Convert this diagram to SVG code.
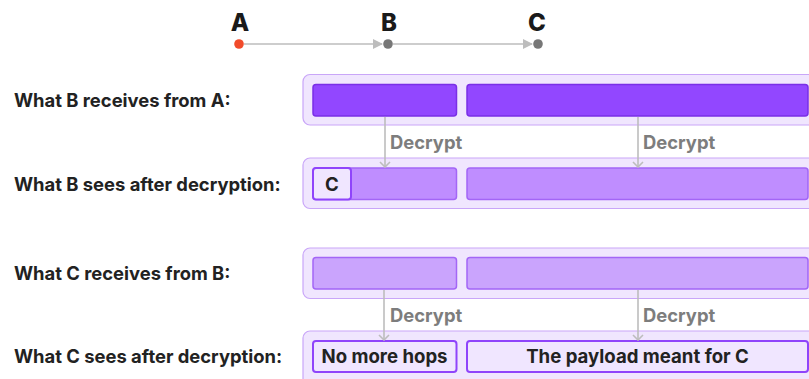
<svg xmlns="http://www.w3.org/2000/svg" width="809" height="379" viewBox="0 0 809 379">
  <defs>
    <style>
      .lbl { font-family: Inter, "Noto Sans", sans-serif; font-weight: 700; font-size: 18.4px; fill: #222; }
      .node { font-family: Inter, "Noto Sans", sans-serif; font-weight: 800; font-size: 24px; fill: #1a1a1a; text-anchor: middle; }
      .dec { font-family: Inter, "Noto Sans", sans-serif; font-weight: 700; font-size: 18.4px; fill: #7d7d7d; }
      .box { font-family: Inter, "Noto Sans", sans-serif; font-weight: 700; font-size: 18.6px; fill: #222; text-anchor: middle; }
      .outer { fill: #f0e6fe; stroke: #c9a6f8; stroke-width: 1.2; }
      .dark { fill: #9247ff; stroke: #7a2fe6; stroke-width: 1.5; }
      .mid { fill: #bf8dff; stroke: #a366f6; stroke-width: 1.5; }
      .soft { fill: #caa4fd; stroke: #a366f6; stroke-width: 1.5; }
      .plain { fill: #f0e6ff; stroke: #8f44fb; stroke-width: 2; }
      .conn { stroke: #bdbdbd; stroke-width: 1.6; fill: none; }
    </style>
    <marker id="tri" viewBox="0 0 10 10" refX="9" refY="5" markerWidth="10" markerHeight="10" markerUnits="userSpaceOnUse" orient="auto">
      <path d="M0,0 L10,5 L0,10 Z" fill="#bdbdbd"/>
    </marker>
    <marker id="chev" viewBox="0 0 12 12" refX="6" refY="11" markerWidth="12" markerHeight="12" markerUnits="userSpaceOnUse" orient="0">
      <path d="M1,6 L6,11 L11,6" fill="none" stroke="#bdbdbd" stroke-width="1.6"/>
    </marker>
  </defs>

  <g id="node-a">
    <text class="node" x="240" y="31">A</text>
    <circle cx="239" cy="44" r="4.8" fill="#f14b2b"/>
  </g>
  <g id="node-b">
    <text class="node" x="389" y="31">B</text>
    <circle cx="388" cy="44" r="4.8" fill="#777"/>
  </g>
  <g id="node-c">
    <text class="node" x="537" y="31">C</text>
    <circle cx="538" cy="44" r="4.8" fill="#777"/>
  </g>

  <!-- row labels -->
  <text class="lbl" x="14" y="107">What B receives from A:</text>
  <text class="lbl" x="14" y="191">What B sees after decryption:</text>
  <text class="lbl" x="14" y="280">What C receives from B:</text>
  <text class="lbl" x="14" y="363">What C sees after decryption:</text>

  <!-- packet rows -->
  <g id="row-b-received">
    <rect class="outer" x="303" y="74.5" width="520" height="50.5" rx="7"/>
    <rect class="dark" x="313" y="84.5" width="143.5" height="31.5" rx="3"/>
    <rect class="dark" x="467" y="84.5" width="341" height="31.5" rx="3"/>
  </g>
  <g id="row-b-decrypted">
    <rect class="outer" x="303" y="158" width="520" height="50.5" rx="7"/>
    <rect class="mid" x="313" y="168" width="143.5" height="31.5" rx="3"/>
    <rect class="mid" x="467" y="168" width="341" height="31.5" rx="3"/>
    <rect class="plain" x="313" y="168" width="38" height="31.5" rx="3"/>
    <text class="box" x="332" y="190.5">C</text>
  </g>
  <g id="row-c-received">
    <rect class="outer" x="303" y="248" width="520" height="50.5" rx="7"/>
    <rect class="soft" x="313" y="257.5" width="143.5" height="31.5" rx="3"/>
    <rect class="soft" x="467" y="257.5" width="341" height="31.5" rx="3"/>
  </g>
  <g id="row-c-decrypted">
    <rect class="outer" x="303" y="331" width="520" height="60" rx="7"/>
    <rect class="plain" x="313" y="341" width="143.5" height="31" rx="3"/>
    <text class="box" x="384.5" y="363">No more hops</text>
    <rect class="plain" x="467" y="341" width="341" height="31" rx="3"/>
    <text class="box" x="637.5" y="363">The payload meant for C</text>
  </g>

  <!-- route A -> B -> C and decrypt steps -->
  <g id="connectors">
    <line class="conn" x1="244" y1="44" x2="382" y2="44" marker-end="url(#tri)"/>
    <line class="conn" x1="393" y1="44" x2="532" y2="44" marker-end="url(#tri)"/>
    <line class="conn" x1="385" y1="117" x2="385" y2="167" marker-end="url(#chev)"/>
    <line class="conn" x1="638" y1="117" x2="638" y2="167" marker-end="url(#chev)"/>
    <line class="conn" x1="384" y1="290" x2="384" y2="340" marker-end="url(#chev)"/>
    <line class="conn" x1="638" y1="290" x2="638" y2="340" marker-end="url(#chev)"/>
    <text class="dec" x="390" y="149">Decrypt</text>
    <text class="dec" x="643" y="149">Decrypt</text>
    <text class="dec" x="390" y="322">Decrypt</text>
    <text class="dec" x="643" y="322">Decrypt</text>
  </g>
</svg>
